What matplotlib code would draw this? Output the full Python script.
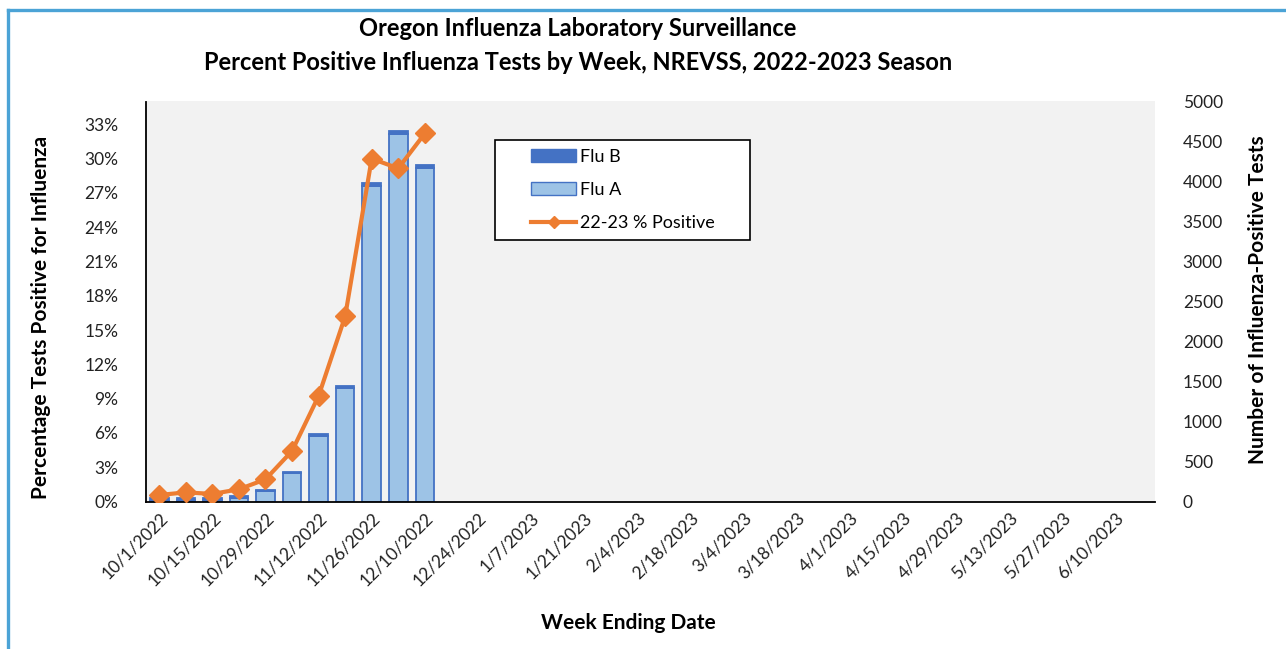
import matplotlib
matplotlib.use('Agg')
import matplotlib.pyplot as plt
import numpy as np
import pandas as pd
from matplotlib.lines import Line2D
from matplotlib.patches import Patch, Rectangle

# ---- data ----
week_dates = pd.date_range('2022-10-01', periods=38, freq='7D')
week_labels = [f"{d.month}/{d.day}/{d.year}" for d in week_dates]

flu_a = [12, 20, 24, 48, 132, 353, 822, 1419, 3947, 4596, 4165]
flu_b = [30, 25, 22, 18, 18, 20, 22, 25, 30, 35, 35]
pct_positive = [0.57, 0.80, 0.66, 1.07, 1.94, 4.42, 9.23, 16.2, 30.0, 29.15, 32.2]

pct_ticks = list(range(0, 34, 3))
count_ticks = list(range(0, 5001, 500))

# ---- style ----
plt.rcParams['font.family'] = ['Lato', 'DejaVu Sans']
FLU_A = '#9DC3E6'
FLU_B = '#4472C4'
ORANGE = '#ED7D31'
W, H = 1286, 649

fig = plt.figure(figsize=(W / 100, H / 100), dpi=100)
fig.patch.set_facecolor('white')

left, right, bottom, top = 146 / W, 1155 / W, 1 - 501.5 / H, 1 - 101.5 / H
ax = fig.add_axes([left, bottom, right - left, top - bottom])
axb = ax.twinx()

# bars on right axis (counts)
n = len(week_labels)
x = np.arange(len(flu_a))
axb.patch.set_visible(True)
axb.set_facecolor('#F2F2F2')
axb.bar(x, flu_a, width=0.7, color=FLU_A, edgecolor=FLU_B, linewidth=1.3, zorder=2)
axb.bar(x, flu_b, width=0.7, bottom=flu_a, color=FLU_B, edgecolor=FLU_B, linewidth=1.3, zorder=2)
axb.set_ylim(0, 5000)
axb.set_yticks(count_ticks)
axb.set_yticklabels([str(v) for v in count_ticks])
axb.set_ylabel('Number of Influenza-Positive Tests', fontsize=15, fontweight='bold')
axb.yaxis.set_label_coords(1248 / W, 1 - 300 / H, transform=fig.transFigure)

# line on left axis (percent)
ax.set_zorder(axb.get_zorder() + 1)
ax.patch.set_visible(False)
ax.plot(np.arange(len(pct_positive)), pct_positive, color=ORANGE, linewidth=3,
        marker='D', markersize=10, markerfacecolor=ORANGE, markeredgecolor=ORANGE, zorder=3)
ax.set_ylim(0, 35)
ax.set_yticks(pct_ticks)
ax.set_yticklabels([f"{v}%" for v in pct_ticks])
ax.set_ylabel('Percentage Tests Positive for Influenza', fontsize=15, fontweight='bold')
ax.yaxis.set_label_coords(51 / W, 1 - 317 / H, transform=fig.transFigure)

ax.set_xlim(-0.5, n - 0.5)
ax.set_xticks(np.arange(0, n, 2))
ax.set_xticklabels(week_labels[::2], rotation=45, ha='right', rotation_mode='anchor')

for a in (ax, axb):
    for s in a.spines.values():
        s.set_visible(False)
    a.tick_params(axis='both', length=0, labelsize=12.5, colors='#222222')
ax.spines['left'].set_visible(True)
ax.spines['left'].set_color('black')
ax.spines['left'].set_linewidth(1.3)
ax.spines['bottom'].set_visible(True)
ax.spines['bottom'].set_color('black')
ax.spines['bottom'].set_linewidth(1.3)
ax.tick_params(axis='x', pad=6)
ax.tick_params(axis='y', pad=20)
axb.tick_params(axis='y', pad=20)
for t in axb.get_yticklabels():
    t.set_horizontalalignment('left')

# legend (frame drawn separately to match the box size)
ax.add_patch(Rectangle((495 / W, 1 - 240 / H), 255 / W, 100 / H, transform=fig.transFigure,
                       facecolor='white', edgecolor='black', linewidth=1.2, zorder=4,
                       clip_on=False))
handles = [Patch(facecolor=FLU_B, edgecolor=FLU_B, linewidth=1.0),
           Patch(facecolor=FLU_A, edgecolor=FLU_B, linewidth=1.0),
           Line2D([0], [0], color=ORANGE, linewidth=3, marker='D', markersize=6)]
leg = ax.legend(handles, ['Flu B', 'Flu A', '22-23 % Positive'],
                loc='upper left', bbox_to_anchor=(531 / W, 1 - 149 / H),
                bbox_transform=fig.transFigure, fontsize=13, frameon=False,
                handlelength=2.5, handleheight=0.75, handletextpad=0.2,
                labelspacing=0.95, borderpad=0, borderaxespad=0)
leg.set_zorder(6)

# titles
fig.text(578 / W, 1 - 29 / H, 'Oregon Influenza Laboratory Surveillance',
         ha='center', va='center', fontsize=17, fontweight='bold')
fig.text(578 / W, 1 - 62 / H, 'Percent Positive Influenza Tests by Week, NREVSS, 2022-2023 Season',
         ha='center', va='center', fontsize=17, fontweight='bold')
fig.text(628 / W, 1 - 623 / H, 'Week Ending Date', ha='center', va='center',
         fontsize=15, fontweight='bold')

# chart border (left and top)
border = '#4BA3D6'
fig.add_artist(Line2D([7.5 / W, 7.5 / W], [0, 1 - 9.5 / H], transform=fig.transFigure,
                      color=border, linewidth=2.4))
fig.add_artist(Line2D([7.5 / W, 1], [1 - 9.5 / H, 1 - 9.5 / H], transform=fig.transFigure,
                      color=border, linewidth=2.4))

fig.savefig('out.png', dpi=100)
